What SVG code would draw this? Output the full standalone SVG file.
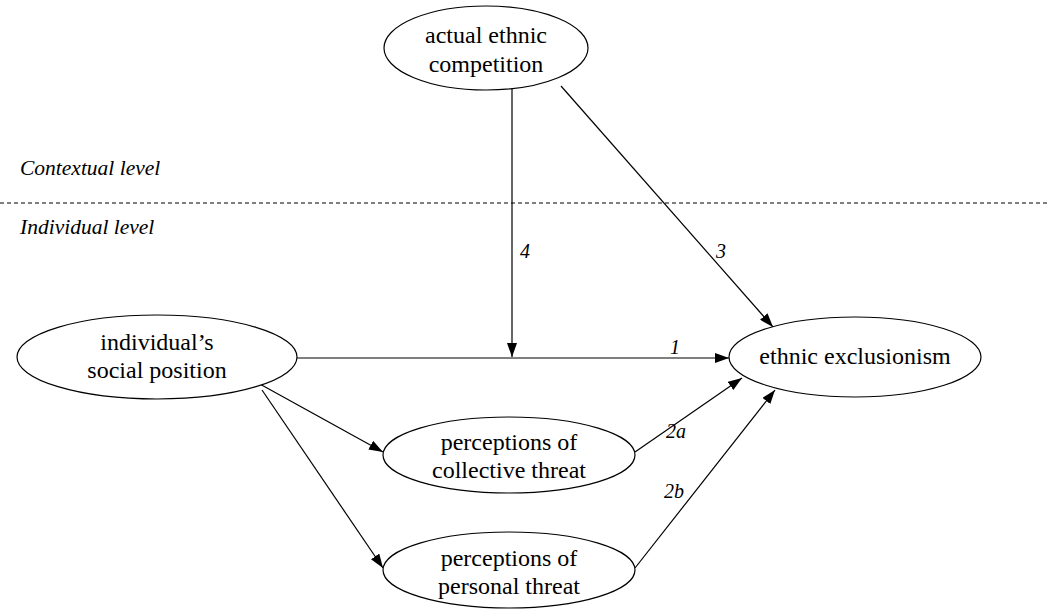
<svg xmlns="http://www.w3.org/2000/svg" width="1048" height="609" viewBox="0 0 1048 609">
<defs>
<marker id="ah" viewBox="0 0 14 10" refX="14" refY="5" markerWidth="14" markerHeight="10" markerUnits="userSpaceOnUse" orient="auto">
<path d="M0,0 L14,5 L0,10 Z" fill="#000"/>
</marker>
</defs>
<rect width="1048" height="609" fill="#fff"/>
<line x1="0" y1="203" x2="1048" y2="203" stroke="#000" stroke-width="1" stroke-dasharray="4,3"/>
<g id="levels" fill="#000">
<text x="20" y="175" font-family="Liberation Serif" font-size="21.5" font-style="italic">Contextual level</text>
<text x="20" y="234" font-family="Liberation Serif" font-size="21.5" font-style="italic">Individual level</text>
</g>
<g id="connectors" stroke="#000" stroke-width="1.2" fill="none" marker-end="url(#ah)">
<line x1="512" y1="88" x2="512" y2="357"/>
<line x1="561" y1="86" x2="773" y2="327"/>
<line x1="297" y1="358" x2="729" y2="358"/>
<line x1="258" y1="383" x2="383" y2="452"/>
<line x1="262" y1="390" x2="383" y2="568"/>
<line x1="635" y1="452" x2="742" y2="378"/>
<line x1="635" y1="568" x2="775" y2="390"/>
</g>
<g id="edge-labels" fill="#000">
<text x="520" y="258" font-family="Liberation Serif" font-size="20" font-style="italic">4</text>
<text x="716" y="258" font-family="Liberation Serif" font-size="20" font-style="italic">3</text>
<text x="670" y="354" font-family="Liberation Serif" font-size="20" font-style="italic">1</text>
<text x="666" y="438" font-family="Liberation Serif" font-size="20" font-style="italic">2a</text>
<text x="664" y="498" font-family="Liberation Serif" font-size="20" font-style="italic">2b</text>
</g>
<g id="competition">
<ellipse cx="486" cy="48" rx="102" ry="42" fill="#fff" stroke="#000" stroke-width="1.2"/>
<text x="486" y="43" font-family="Liberation Serif" font-size="24" text-anchor="middle">actual ethnic</text>
<text x="486" y="72" font-family="Liberation Serif" font-size="24" text-anchor="middle">competition</text>
</g>
<g id="social">
<ellipse cx="157" cy="357" rx="140" ry="42" fill="#fff" stroke="#000" stroke-width="1.2"/>
<text x="157" y="350" font-family="Liberation Serif" font-size="24" text-anchor="middle">individual’s</text>
<text x="157" y="378" font-family="Liberation Serif" font-size="24" text-anchor="middle">social position</text>
</g>
<g id="exclusion">
<ellipse cx="855" cy="357" rx="126" ry="40" fill="#fff" stroke="#000" stroke-width="1.2"/>
<text x="855" y="364" font-family="Liberation Serif" font-size="24" text-anchor="middle">ethnic exclusionism</text>
</g>
<g id="collective">
<ellipse cx="509" cy="455" rx="126" ry="38" fill="#fff" stroke="#000" stroke-width="1.2"/>
<text x="509" y="450" font-family="Liberation Serif" font-size="24" text-anchor="middle">perceptions of</text>
<text x="509" y="478" font-family="Liberation Serif" font-size="24" text-anchor="middle">collective threat</text>
</g>
<g id="personal">
<ellipse cx="509" cy="570" rx="126" ry="38" fill="#fff" stroke="#000" stroke-width="1.2"/>
<text x="509" y="566" font-family="Liberation Serif" font-size="24" text-anchor="middle">perceptions of</text>
<text x="509" y="594" font-family="Liberation Serif" font-size="24" text-anchor="middle">personal threat</text>
</g>
</svg>
